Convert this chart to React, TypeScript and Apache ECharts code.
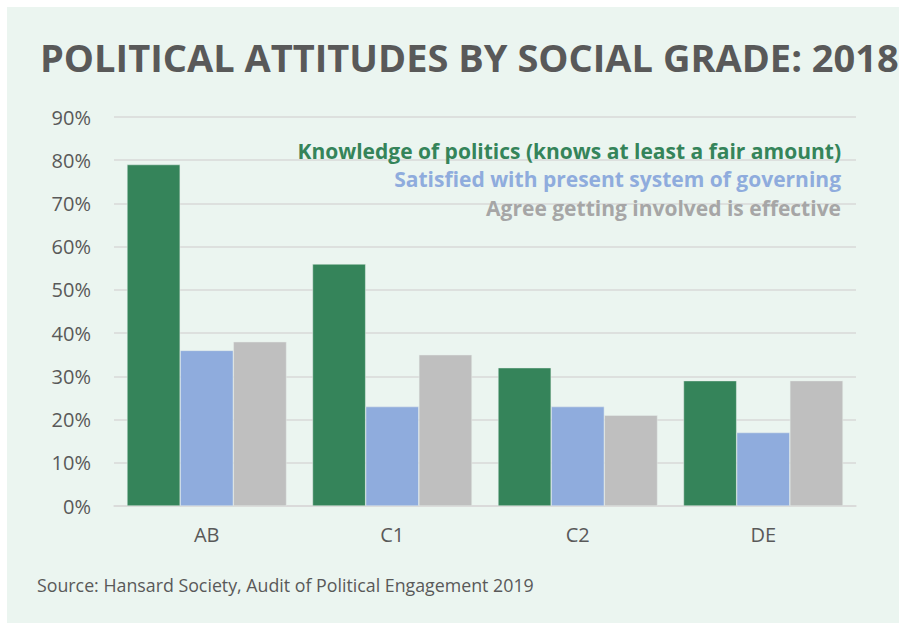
import React, { useEffect, useRef } from "react";
import * as echarts from "echarts";

const categories = ["AB", "C1", "C2", "DE"];
const seriesNames = [
  "Knowledge of politics (knows at least a fair amount)",
  "Satisfied with present system of governing",
  "Agree getting involved is effective",
];
const knowledge = [79, 56, 32, 29];
const satisfied = [36, 23, 23, 17];
const involved = [38, 35, 21, 29];
const yTicks = { min: 0, max: 90, interval: 10 };
const colors = ["#35845A", "#8FACDD", "#BFBFBF"];
const legendColors = ["#35845A", "#8FACDD", "#A6A6A6"];
const titleText = "POLITICAL ATTITUDES BY SOCIAL GRADE: 2018";
const sourceText = "Source: Hansard Society, Audit of Political Engagement 2019";

const FONT = "'Open Sans', 'Noto Sans', sans-serif";

export default function App() {
  const ref = useRef<HTMLDivElement>(null);
  useEffect(() => {
    if (!ref.current) return;
    const chart = echarts.init(ref.current, undefined, { renderer: "svg" });
    const values = [knowledge, satisfied, involved];
    chart.setOption({
      animation: false,
      backgroundColor: "#FFFFFF",
      textStyle: { fontFamily: FONT },
      title: {
        text: titleText,
        left: 40,
        top: 38,
        padding: 0,
        textStyle: { fontFamily: FONT, fontSize: 38, fontWeight: "bold", color: "#595959" },
      },
      graphic: [
        {
          type: "rect",
          z: -10,
          silent: true,
          shape: { x: 7, y: 7, width: 900, height: 616 },
          style: { fill: "#EBF5F0" },
        },
        {
          type: "text",
          left: 37,
          top: 576,
          style: { text: sourceText, fontFamily: FONT, fontSize: 17.8, fill: "#595959" },
        },
      ],
      legend: {
        orient: "vertical",
        right: 53,
        top: 140,
        padding: 0,
        align: "right",
        icon: "none",
        itemWidth: 0,
        itemHeight: 0,
        itemGap: 7.5,
        selectedMode: false,
        data: seriesNames.map((n, i) => ({
          name: n,
          textStyle: {
            color: legendColors[i],
            fontFamily: FONT,
            fontSize: 21,
            fontWeight: "bold",
          },
        })),
      },
      grid: { left: 114, right: 43, top: 117, bottom: 118 },
      xAxis: {
        type: "category",
        data: categories,
        axisTick: { show: false },
        axisLine: { lineStyle: { color: "#D9D9D9", width: 1.5 } },
        axisLabel: { color: "#595959", fontSize: 20, margin: 18, fontFamily: FONT },
      },
      yAxis: {
        type: "value",
        min: yTicks.min,
        max: yTicks.max,
        interval: yTicks.interval,
        axisLabel: { formatter: "{value}%", color: "#595959", fontSize: 20, margin: 23, fontFamily: FONT },
        splitLine: { lineStyle: { color: "#D9D9D9", width: 1.5 } },
        axisLine: { show: false },
        axisTick: { show: false },
      },
      series: seriesNames.map((n, i) => ({
        name: n,
        type: "bar",
        data: values[i],
        barGap: "0%",
        barCategoryGap: "14%",
        itemStyle: { color: colors[i], borderColor: "#E6EFEA", borderWidth: 0.5 },
      })),
    });
    return () => chart.dispose();
  }, []);
  return (
    <div
      ref={ref}
      style={{ position: "fixed", left: 0, top: 0, width: 899, height: 624 }}
    />
  );
}
